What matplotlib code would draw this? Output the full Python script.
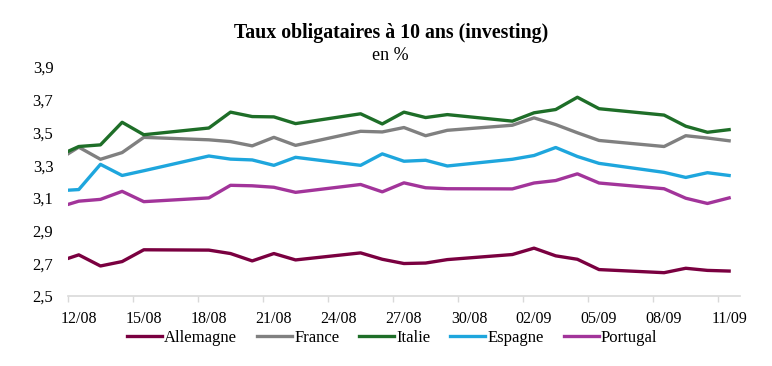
import pandas as pd
import matplotlib
matplotlib.use("Agg")
import matplotlib.pyplot as plt

plt.rcParams['font.family'] = ['Liberation Serif', 'DejaVu Serif']

# jours ouvrés (le 11/08 est coupé par le bord gauche de l'axe)
dates = ["2025-08-11", "2025-08-12", "2025-08-13", "2025-08-14", "2025-08-15",
         "2025-08-18", "2025-08-19", "2025-08-20", "2025-08-21", "2025-08-22",
         "2025-08-25", "2025-08-26", "2025-08-27", "2025-08-28", "2025-08-29",
         "2025-09-01", "2025-09-02", "2025-09-03", "2025-09-04", "2025-09-05",
         "2025-09-08", "2025-09-09", "2025-09-10", "2025-09-11"]

allemagne = [2.708, 2.752, 2.684, 2.711, 2.783, 2.781, 2.760, 2.715, 2.760, 2.721,
             2.764, 2.725, 2.699, 2.702, 2.723, 2.754, 2.793, 2.746, 2.725, 2.662,
             2.643, 2.670, 2.657, 2.653]
france = [3.328, 3.410, 3.336, 3.377, 3.470, 3.455, 3.444, 3.418, 3.470, 3.421,
          3.507, 3.503, 3.530, 3.480, 3.513, 3.544, 3.589, 3.548, 3.498, 3.451,
          3.414, 3.480, 3.466, 3.449]
italie = [3.354, 3.414, 3.424, 3.562, 3.486, 3.527, 3.624, 3.597, 3.595, 3.554,
          3.614, 3.552, 3.624, 3.591, 3.609, 3.569, 3.620, 3.640, 3.715, 3.645,
          3.606, 3.538, 3.501, 3.517]
espagne = [3.143, 3.151, 3.305, 3.237, 3.266, 3.356, 3.337, 3.332, 3.299, 3.348,
           3.299, 3.369, 3.324, 3.330, 3.295, 3.336, 3.359, 3.408, 3.353, 3.311,
           3.256, 3.225, 3.254, 3.237]
portugal = [3.040, 3.080, 3.091, 3.140, 3.077, 3.100, 3.177, 3.174, 3.165, 3.134,
            3.182, 3.137, 3.192, 3.162, 3.156, 3.155, 3.191, 3.206, 3.247, 3.191,
            3.156, 3.098, 3.066, 3.100]

series = [("Allemagne", allemagne, "#7a0040"),
          ("France", france, "#808080"),
          ("Italie", italie, "#1e6e28"),
          ("Espagne", espagne, "#1ea6dd"),
          ("Portugal", portugal, "#a2349a")]

x = pd.to_datetime(dates) + pd.Timedelta(hours=12)  # point au milieu du jour

fig = plt.figure(figsize=(7.72, 3.66), dpi=100)
ax = fig.add_axes([0.088, 0.191, 0.8705, 0.626])

for name, vals, col in series:
    ax.plot(x, vals, color=col, lw=2.4, label=name, solid_joinstyle='round')

ax.set_xlim(pd.Timestamp("2025-08-12"), pd.Timestamp("2025-09-12"))
ax.set_ylim(2.5, 3.9)

ticks = pd.date_range("2025-08-12", "2025-09-11", freq="3D")
ax.set_xticks(ticks, [""] * len(ticks))
ax.set_xticks(ticks + pd.Timedelta(hours=12), [t.strftime("%d/%m") for t in ticks], minor=True)
ax.tick_params(axis="x", which="major", length=4.5, color="#d9d9d9", width=1)
ax.tick_params(axis="x", which="minor", length=0, pad=10.5, labelsize=11.5)

yt = [2.5, 2.7, 2.9, 3.1, 3.3, 3.5, 3.7, 3.9]
ax.set_yticks(yt, [f"{v:.1f}".replace(".", ",") for v in yt])
ax.tick_params(axis="y", length=0, pad=10.5, labelsize=12)

for s in ["top", "right", "left"]:
    ax.spines[s].set_visible(False)
ax.spines["bottom"].set_color("#d9d9d9")
ax.spines["bottom"].set_linewidth(1.2)

fig.text(0.507, 0.91, "Taux obligataires à 10 ans (investing)", ha="center", va="center",
         fontsize=14.3, fontweight="bold")
fig.text(0.505, 0.847, "en %", ha="center", va="center", fontsize=13)

fig.legend(loc="center", bbox_to_anchor=(0.508, 0.077), ncol=5, frameon=False,
           fontsize=12, handlelength=2.1, handletextpad=0.12, columnspacing=1.2)

fig.savefig("out.png", dpi=100)
